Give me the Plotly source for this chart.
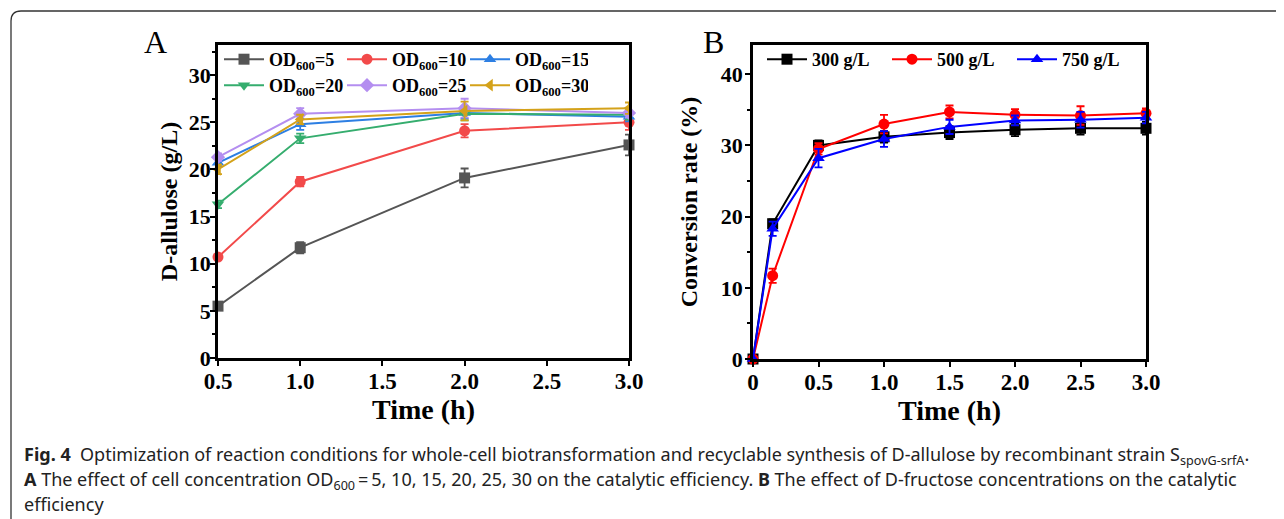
import plotly.graph_objects as go

# page offset (browser body margin) compensation
OX, OY = 8, 8
W, H = 1284 - OX, 519 - OY

# ---------------- Panel A data ----------------
time_a = [0.5, 1.0, 2.0, 3.0]
od_names = ["OD<sub>600</sub>=5", "OD<sub>600</sub>=10", "OD<sub>600</sub>=15",
            "OD<sub>600</sub>=20", "OD<sub>600</sub>=25", "OD<sub>600</sub>=30"]
od5 = [5.5, 11.7, 19.1, 22.6]
od10 = [10.7, 18.7, 24.1, 25.0]
od15 = [20.7, 24.8, 26.0, 25.6]
od20 = [16.3, 23.3, 25.9, 25.8]
od25 = [21.3, 25.9, 26.5, 26.0]
od30 = [20.0, 25.3, 26.2, 26.5]
od5_err = [0.3, 0.6, 1.0, 1.1]
od10_err = [0.3, 0.5, 0.7, 0.8]
od15_err = [0.4, 0.6, 0.6, 0.5]
od20_err = [0.4, 0.5, 0.7, 0.5]
od25_err = [0.4, 0.6, 1.0, 0.5]
od30_err = [0.5, 0.5, 1.0, 0.6]
a_xticks = [0.5, 1.0, 1.5, 2.0, 2.5, 3.0]
a_xticktext = ["0.5", "1.0", "1.5", "2.0", "2.5", "3.0"]
a_yticks = [0, 5, 10, 15, 20, 25, 30]

# ---------------- Panel B data ----------------
time_b = [0, 0.15, 0.5, 1.0, 1.5, 2.0, 2.5, 3.0]
fru_names = ["300 g/L", "500 g/L", "750 g/L"]
c300 = [0, 19.0, 30.0, 31.2, 31.8, 32.2, 32.4, 32.4]
c500 = [0, 11.7, 29.5, 33.0, 34.7, 34.3, 34.2, 34.5]
c750 = [0, 18.3, 28.2, 30.9, 32.6, 33.5, 33.6, 33.9]
c300_err = [0, 0.6, 0.7, 0.8, 0.9, 0.9, 0.9, 0.9]
c500_err = [0, 1.0, 0.8, 1.3, 0.9, 0.8, 1.3, 0.7]
c750_err = [0, 1.0, 1.3, 1.1, 1.0, 0.7, 1.1, 0.8]
b_xticks = [0, 0.5, 1.0, 1.5, 2.0, 2.5, 3.0]
b_xticktext = ["0", "0.5", "1.0", "1.5", "2.0", "2.5", "3.0"]
b_yticks = [0, 10, 20, 30, 40]

caption1 = ("<b>Fig. 4</b>  Optimization of reaction conditions for whole-cell biotransformation "
            "and recyclable synthesis of D-allulose by recombinant strain S<sub>spovG-srfA</sub>.")
caption2 = ("<b>A</b> The effect of cell concentration OD<sub>600</sub>\u2009=\u20095, 10, 15, 20, 25, 30 "
            "on the catalytic efficiency. <b>B</b> The effect of D-fructose concentrations on the catalytic")
caption3 = "efficiency"

SERIF = "Liberation Serif, Times New Roman, serif"
CAPF = "Noto Sans, sans-serif"

fig = go.Figure()

a_series = [od5, od10, od15, od20, od25, od30]
a_errs = [od5_err, od10_err, od15_err, od20_err, od25_err, od30_err]
a_colors = ["#555555", "#f24a4a", "#2d7fe3", "#35ad6e", "#b48ef0", "#d4a21a"]
a_symbols = ["square", "circle", "triangle-up", "triangle-down", "diamond", "triangle-left"]
a_legends = ["legend", "legend", "legend", "legend2", "legend2", "legend2"]
for name, ys, es, c, s, lg in zip(od_names, a_series, a_errs, a_colors, a_symbols, a_legends):
    fig.add_trace(go.Scatter(
        x=time_a, y=ys, name=name, mode="lines+markers",
        line=dict(color=c, width=2), marker=dict(symbol=s, size=11, color=c),
        error_y=dict(type="data", array=es, color=c, thickness=1.8, width=4),
        xaxis="x", yaxis="y", legend=lg, cliponaxis=False))

b_series = [c300, c500, c750]
b_errs = [c300_err, c500_err, c750_err]
b_colors = ["#000000", "#ff0000", "#0000ff"]
b_symbols = ["square", "circle", "triangle-up"]
for name, ys, es, c, s in zip(fru_names, b_series, b_errs, b_colors, b_symbols):
    fig.add_trace(go.Scatter(
        x=time_b, y=ys, name=name, mode="lines+markers",
        line=dict(color=c, width=2), marker=dict(symbol=s, size=11, color=c),
        error_y=dict(type="data", array=es, color=c, thickness=1.8, width=4),
        xaxis="x2", yaxis="y2", legend="legend3", cliponaxis=False))

px = lambda v: (v - OX) / W
py = lambda v: 1 - (v - OY) / H

axis_common = dict(showline=True, linewidth=2.5, linecolor="black", mirror=True,
                   ticks="outside", ticklen=5, tickwidth=2, tickcolor="black",
                   showgrid=False, zeroline=False, automargin=False)
xtickfont = dict(family=SERIF, size=23, color="black", weight="bold")
ytickfont = dict(family=SERIF, size=22, color="black", weight="bold")
xtitle_font = dict(family=SERIF, size=28, color="black")
ytitle_font = dict(family=SERIF, size=24, color="black")

leg_common = dict(xanchor="left", yanchor="top", orientation="h", itemwidth=40,
                  bgcolor="rgba(0,0,0,0)", tracegroupgap=0, entrywidthmode="pixels",
                  font=dict(family=SERIF, size=18, color="black", weight="bold"))

fig.update_layout(
    width=W, height=H, autosize=False,
    margin=dict(l=0, r=0, t=0, b=0, autoexpand=False),
    paper_bgcolor="white", plot_bgcolor="white",
    xaxis=dict(domain=[px(218), px(629)], range=[0.5, 3.0], anchor="y",
               tickvals=a_xticks, ticktext=a_xticktext, tickfont=xtickfont, ticklabelstandoff=-4,
               title=dict(text="<b>Time (h)</b>", font=xtitle_font, standoff=3),
               **axis_common),
    yaxis=dict(domain=[py(358), py(45)], range=[0, 33.2], anchor="x",
               tickvals=a_yticks, tickfont=ytickfont, ticklabelstandoff=-5,
               minor=dict(dtick=2.5, ticks="outside", ticklen=3, tickwidth=2, tickcolor="black"),
               title=dict(text="<b>D-allulose (g/L)</b>", font=ytitle_font, standoff=5),
               **axis_common),
    xaxis2=dict(domain=[px(753), px(1146)], range=[0, 3.0], anchor="y2",
                tickvals=b_xticks, ticktext=b_xticktext, tickfont=xtickfont, ticklabelstandoff=-4,
                title=dict(text="<b>Time (h)</b>", font=xtitle_font, standoff=3),
                **axis_common),
    yaxis2=dict(domain=[py(359), py(45)], range=[0, 44.1], anchor="x2",
                tickvals=b_yticks, tickfont=ytickfont, ticklabelstandoff=-2,
                minor=dict(dtick=5, ticks="outside", ticklen=3, tickwidth=2, tickcolor="black"),
                title=dict(text="<b>Conversion rate (%)</b>", font=ytitle_font, standoff=17),
                **axis_common),
    legend=dict(x=px(219), y=py(41), entrywidth=68, **leg_common),
    legend2=dict(x=px(219), y=py(67), entrywidth=68, **leg_common),
    legend3=dict(x=px(762), y=py(41), entrywidth=70, **leg_common),
    showlegend=True,
)

annos = [
    dict(text="A", x=px(155), y=py(42), font=dict(family=SERIF, size=32, color="black")),
    dict(text="B", x=px(714), y=py(42), font=dict(family=SERIF, size=32, color="black")),
]
for a in annos:
    fig.add_annotation(xref="paper", yref="paper", showarrow=False, xanchor="center", yanchor="middle", **a)

for txt, yc in [(caption1, 455), (caption2, 480), (caption3, 504)]:
    fig.add_annotation(xref="paper", yref="paper", showarrow=False, xanchor="left", yanchor="middle",
                       x=px(22), y=py(yc), text=txt, align="left",
                       font=dict(family=CAPF, size=18, color="#222222"))

# rounded frame around the figure
r = 10
x0, y0 = 11, 11
path = (f"M {px(x0)},{py(540)} L {px(x0)},{py(y0 + r)} "
        f"Q {px(x0)},{py(y0)} {px(x0 + r)},{py(y0)} L {px(1300)},{py(y0)}")
fig.add_shape(type="path", xref="paper", yref="paper", path=path,
              line=dict(color="#333333", width=1.3))

fig.write_html("out.html")
